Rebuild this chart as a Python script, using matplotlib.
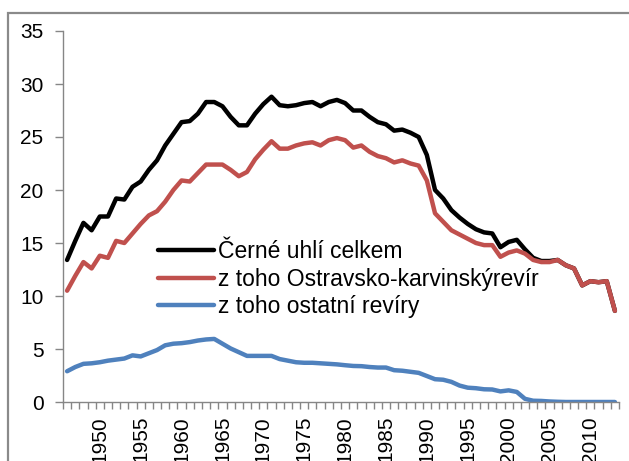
import matplotlib
matplotlib.use("Agg")
import matplotlib.pyplot as plt
from matplotlib.patches import Rectangle

plt.rcParams['font.family'] = ['Liberation Sans', 'DejaVu Sans']

years = list(range(1946, 2014))

# Černé uhlí celkem (mil. t)
total = [13.4, 15.2, 16.9, 16.2, 17.5, 17.5, 19.2, 19.1, 20.3, 20.8,
         21.9, 22.8, 24.2, 25.3, 26.4, 26.5, 27.2, 28.3, 28.3, 27.9,
         26.9, 26.1, 26.1, 27.2, 28.1, 28.8, 28.0, 27.9, 28.0, 28.2,
         28.3, 27.9, 28.3, 28.5, 28.2, 27.5, 27.5, 26.9, 26.4, 26.2,
         25.6, 25.7, 25.4, 25.0, 23.3, 20.0, 19.2, 18.1, 17.4, 16.8,
         16.3, 16.0, 15.9, 14.6, 15.1, 15.3, 14.4, 13.6, 13.3, 13.3,
         13.4, 12.9, 12.6, 11.0, 11.4, 11.3, 11.4, 8.6]

# z toho Ostravsko-karvinský revír
okr = [10.5, 11.9, 13.2, 12.6, 13.8, 13.6, 15.2, 15.0, 15.9, 16.8,
       17.6, 18.0, 18.9, 20.0, 20.9, 20.8, 21.6, 22.4, 22.4, 22.4,
       21.9, 21.3, 21.7, 22.9, 23.8, 24.6, 23.9, 23.9, 24.2, 24.4,
       24.5, 24.2, 24.7, 24.9, 24.7, 24.0, 24.2, 23.6, 23.2, 23.0,
       22.6, 22.8, 22.5, 22.3, 20.9, 17.8, 17.0, 16.2, 15.8, 15.4,
       15.0, 14.8, 14.8, 13.7, 14.1, 14.3, 14.0, 13.4, 13.2, 13.2,
       13.4, 12.9, 12.6, 11.0, 11.4, 11.3, 11.4, 8.6]

# z toho ostatní revíry
other = [2.9, 3.3, 3.6, 3.65, 3.75, 3.9, 4.0, 4.1, 4.4, 4.3,
         4.6, 4.9, 5.35, 5.5, 5.55, 5.65, 5.8, 5.9, 5.95, 5.5,
         5.05, 4.7, 4.35, 4.35, 4.35, 4.35, 4.05, 3.9, 3.75, 3.7,
         3.7, 3.65, 3.6, 3.55, 3.47, 3.4, 3.38, 3.3, 3.25, 3.25,
         3.0, 2.95, 2.85, 2.75, 2.45, 2.15, 2.1, 1.9, 1.55, 1.35,
         1.3, 1.2, 1.18, 1.0, 1.1, 0.95, 0.3, 0.12, 0.1, 0.05,
         0.02, 0.0, 0.0, 0.0, 0.0, 0.0, 0.0, 0.0]

labels = ['Černé uhlí celkem', 'z toho Ostravsko-karvinskýrevír', 'z toho ostatní revíry']
colors = ['#000000', '#C0504D', '#4F81BD']

W, H = 629, 461
fig = plt.figure(figsize=(W / 100, H / 100), dpi=100)
ax = fig.add_axes([63 / W, 1 - 402 / H, (619 - 63) / W, (402 - 31) / H])

for vals, lab, c in zip([total, okr, other], labels, colors):
    ax.plot(years, vals, color=c, lw=3.2, label=lab, solid_capstyle='round',
            solid_joinstyle='round')

ax.set_xlim(1945.5, 2013.5)
ax.set_ylim(0, 35)
ax.set_yticks(range(0, 36, 5))

# category boundary ticks, labels every 5 years on minor ticks
ax.set_xticks([y - 0.5 for y in years] + [2013.5])
ax.set_xticklabels([])
ax.set_xticks(range(1950, 2011, 5), minor=True)
ax.set_xticklabels([str(y) for y in range(1950, 2011, 5)], minor=True, rotation=90,
                   va='top', ha='center')

ax.tick_params(axis='x', which='major', direction='out', length=5, width=1, color='#868686')
ax.tick_params(axis='x', which='minor', length=0, pad=10, labelsize=15)
ax.tick_params(axis='y', direction='out', length=6, width=1, color='#868686', pad=8,
               labelsize=15)

for s in ['top', 'right']:
    ax.spines[s].set_visible(False)
for s in ['left', 'bottom']:
    ax.spines[s].set_color('#868686')
    ax.spines[s].set_linewidth(1)

leg = ax.legend(loc='upper left', bbox_to_anchor=(158 / W, 1 - 240 / H),
                bbox_transform=fig.transFigure, frameon=False, fontsize=16.5,
                handlelength=2.45, handletextpad=0.15, labelspacing=0.2,
                borderpad=0, borderaxespad=0)

# outer chart frame
fig.patches.append(Rectangle((8 / W, -0.1), 1.2, 1 - 13 / H + 0.1, fill=False,
                             edgecolor='#8a8a8a', lw=1.6, transform=fig.transFigure))

fig.savefig('out.png', dpi=100)
